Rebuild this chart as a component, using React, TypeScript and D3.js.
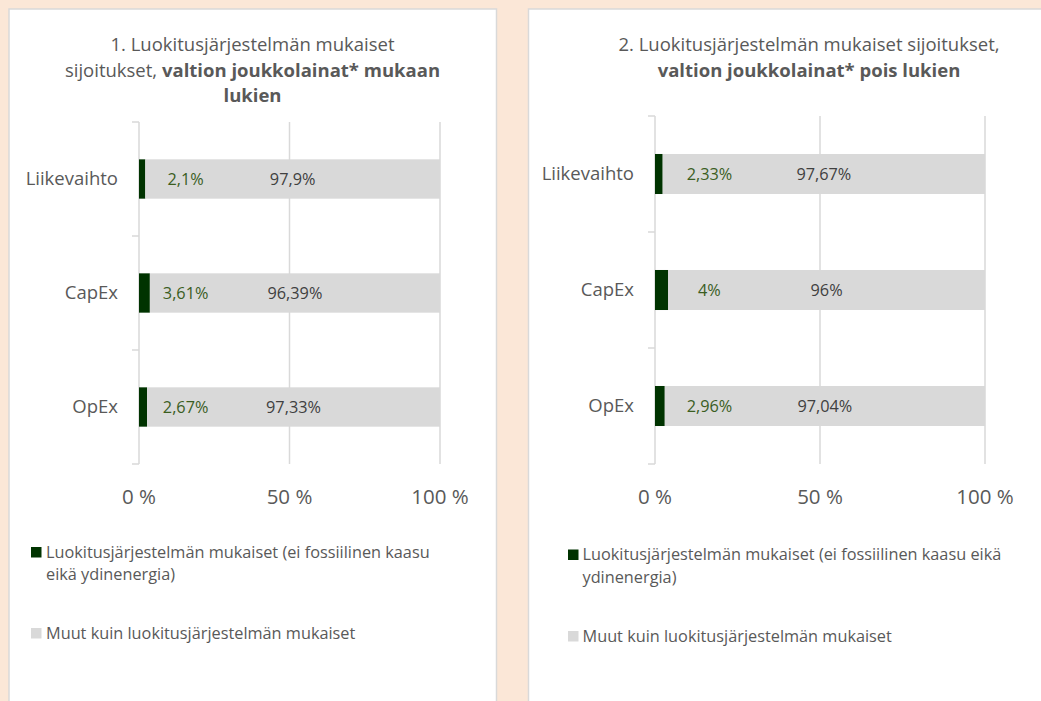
import React from "react";
import * as d3 from "d3";

const categories = ["Liikevaihto", "CapEx", "OpEx"];
const alignedWithGovBonds = [2.1, 3.61, 2.67];
const otherWithGovBonds = [97.9, 96.39, 97.33];
const alignedWithoutGovBonds = [2.33, 4, 2.96];
const otherWithoutGovBonds = [97.67, 96, 97.04];
const tickValues = [0, 50, 100];
const tickLabels = ["0 %", "50 %", "100 %"];
const seriesNames = [
  "Luokitusjärjestelmän mukaiset (ei fossiilinen kaasu eikä ydinenergia)",
  "Muut kuin luokitusjärjestelmän mukaiset",
];

const FONT = "'Open Sans', 'Noto Sans', sans-serif";
const TEXT = "#595959";
const GREEN = "#003300";
const GRAY = "#d9d9d9";
const GREEN_TXT = "#3b5e1f";
const DARK_TXT = "#404040";

const fmt = (v: number) => String(v).replace(".", ",") + "%";

type PanelProps = {
  aligned: number[];
  other: number[];
  x0: number;
  x1: number;
  yTop: number;
  yBot: number;
  greenLabelFrac: number;
  tickLabelY: number;
};

function Chart({ aligned, other, x0, x1, yTop, yBot, greenLabelFrac, tickLabelY }: PanelProps) {
  const x = d3.scaleLinear().domain([0, 100]).range([x0, x1]);
  const y = d3.scaleBand<string>().domain(categories).range([yTop, yBot]).padding(0);
  const bh = y.bandwidth() * 0.345;
  const boundaries = [yTop, ...categories.map((c) => (y(c) as number) + y.bandwidth())];
  return (
    <g>
      {tickValues.map((t, i) => (
        <line key={"g" + i} x1={x(t)} x2={x(t)} y1={yTop} y2={yBot} stroke={GRAY} strokeWidth={1.5} />
      ))}
      {boundaries.map((b, i) => (
        <line key={"t" + i} x1={x0 - 7} x2={x0} y1={b} y2={b} stroke={GRAY} strokeWidth={1.5} />
      ))}
      {categories.map((c, i) => {
        const cy = (y(c) as number) + y.bandwidth() / 2;
        return (
          <g key={c}>
            <rect x={x(0)} y={cy - bh / 2} width={x(aligned[i]) - x(0)} height={bh} fill={GREEN} />
            <rect x={x(aligned[i])} y={cy - bh / 2} width={x(aligned[i] + other[i]) - x(aligned[i])} height={bh} fill={GRAY} />
            <text x={x0 - 21} y={cy} dy="0.35em" textAnchor="end" fontSize={18.5} fill={TEXT} fontFamily={FONT}>
              {c}
            </text>
            <text x={x0 + greenLabelFrac * (x1 - x0)} y={cy} dy="0.35em" textAnchor="middle" fontSize={16.3} fill={GREEN_TXT} fontFamily={FONT}>
              {fmt(aligned[i])}
            </text>
            <text x={(x(aligned[i]) + x(aligned[i] + other[i])) / 2} y={cy} dy="0.35em" textAnchor="middle" fontSize={16.3} fill={DARK_TXT} fontFamily={FONT}>
              {fmt(other[i])}
            </text>
          </g>
        );
      })}
      {tickValues.map((t, i) => (
        <text key={"l" + i} x={x(t)} y={tickLabelY} textAnchor="middle" fontSize={20.5} fill={TEXT} fontFamily={FONT}>
          {tickLabels[i]}
        </text>
      ))}
    </g>
  );
}

function Legend({ sx, tx, lines1, y1, y2 }: { sx: number; tx: number; lines1: string[]; y1: number; y2: number }) {
  return (
    <g fontFamily={FONT} fontSize={16.3} fill={TEXT}>
      <rect x={sx} y={y1 - 10.5} width={10.5} height={10.5} fill={GREEN} />
      {lines1.map((l, i) => (
        <text key={i} x={tx} y={y1 + i * 22.7}>
          {l}
        </text>
      ))}
      <rect x={sx} y={y2 - 10.5} width={10.5} height={10.5} fill={GRAY} />
      <text x={tx} y={y2}>{seriesNames[1]}</text>
    </g>
  );
}

export default function App() {
  const words = seriesNames[0].split(" ");
  const leg1 = [words.slice(0, 5).join(" "), words.slice(5).join(" ")];
  const leg2 = [words.slice(0, 6).join(" "), words.slice(6).join(" ")];
  return (
    <svg width={1041} height={701} style={{ position: "absolute", left: 0, top: 0 }}>
      <rect x={0} y={0} width={1041} height={701} fill="#fbe7d7" />
      <rect x={9} y={9} width={487.5} height={720} fill="#ffffff" stroke="#d9d9d9" strokeWidth={1.5} />
      <rect x={528.5} y={9} width={560} height={720} fill="#ffffff" stroke="#d9d9d9" strokeWidth={1.5} />

      <g fontFamily={FONT} fontSize={18.5} fill={TEXT} textAnchor="middle">
        <text x={252.5} y={50.5}>1. Luokitusjärjestelmän mukaiset</text>
        <text x={252.5} y={76.5}>
          <tspan>sijoitukset, </tspan>
          <tspan fontWeight="bold">valtion joukkolainat* mukaan</tspan>
        </text>
        <text x={252.5} y={102} fontWeight="bold">lukien</text>
        <text x={809} y={50.5}>2. Luokitusjärjestelmän mukaiset sijoitukset,</text>
        <text x={809} y={76.5} fontWeight="bold">valtion joukkolainat* pois lukien</text>
      </g>

      <Chart aligned={alignedWithGovBonds} other={otherWithGovBonds} x0={139} x1={440} yTop={122} yBot={464} greenLabelFrac={0.155} tickLabelY={503.5} />
      <Chart aligned={alignedWithoutGovBonds} other={otherWithoutGovBonds} x0={655} x1={985} yTop={116} yBot={464} greenLabelFrac={0.165} tickLabelY={503.5} />

      <Legend sx={31} tx={46} lines1={leg1} y1={557.5} y2={638.5} />
      <Legend sx={568} tx={582.5} lines1={leg2} y1={560} y2={641.5} />
    </svg>
  );
}
